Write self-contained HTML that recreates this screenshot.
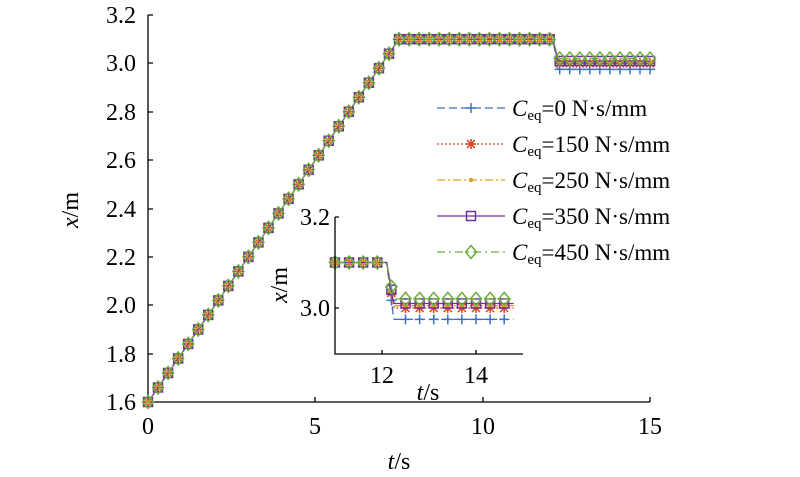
<!DOCTYPE html>
<html><head><meta charset="utf-8"><style>
body{margin:0;background:#fff}
svg{display:block;font-family:"Liberation Serif",serif}
</style></head><body>
<svg id="s" width="800" height="477" viewBox="0 0 800 477">
<g stroke="#000" stroke-width="1.3" fill="none">
<path d="M148,15 V402 H650"/>
<path d="M148,15h5M148,63h5M148,112h5M148,160h5M148,209h5M148,257h5M148,305h5M148,354h5M148,402h5"/>
<path d="M148,402v-5M315,402v-5M483,402v-5M650,402v-5"/>
</g>
<g font-size="24" text-anchor="end">
<text x="136" y="23">3.2</text><text x="136" y="71">3.0</text><text x="136" y="120">2.8</text><text x="136" y="168">2.6</text><text x="136" y="217">2.4</text><text x="136" y="265">2.2</text><text x="136" y="313">2.0</text><text x="136" y="362">1.8</text><text x="136" y="410">1.6</text>
</g>
<g font-size="24" text-anchor="middle">
<text x="148" y="434">0</text><text x="315" y="434">5</text><text x="483" y="434">10</text><text x="650" y="434">15</text>
<text x="399" y="469"><tspan font-style="italic">t</tspan>/s</text>
</g>
<text font-size="24" transform="translate(78,210) rotate(-90)" text-anchor="middle"><tspan font-style="italic">x</tspan>/m</text>
<g id="main"></g>
<g id="inset"></g>
<g stroke="#000" stroke-width="1.3" fill="none">
<path d="M335,217 V354 H523"/>
<path d="M335,217h4M335,308h4M382,354v-4M476,354v-4"/>
</g>
<g font-size="24">
<text x="330" y="225" text-anchor="end">3.2</text><text x="330" y="316" text-anchor="end">3.0</text>
<text x="382" y="383" text-anchor="middle">12</text><text x="476" y="383" text-anchor="middle">14</text>
<text x="428" y="400" text-anchor="middle"><tspan font-style="italic">t</tspan>/s</text>
<text transform="translate(287,285) rotate(-90)" text-anchor="middle"><tspan font-style="italic">x</tspan>/m</text>
</g>
<g id="leg"></g>
<g font-size="23">
<text x="512" y="116"><tspan font-style="italic">C</tspan><tspan font-size="15" dy="4">eq</tspan><tspan dy="-4">=0 N·s/mm</tspan></text>
<text x="512" y="152"><tspan font-style="italic">C</tspan><tspan font-size="15" dy="4">eq</tspan><tspan dy="-4">=150 N·s/mm</tspan></text>
<text x="512" y="188"><tspan font-style="italic">C</tspan><tspan font-size="15" dy="4">eq</tspan><tspan dy="-4">=250 N·s/mm</tspan></text>
<text x="512" y="224"><tspan font-style="italic">C</tspan><tspan font-size="15" dy="4">eq</tspan><tspan dy="-4">=350 N·s/mm</tspan></text>
<text x="512" y="260"><tspan font-style="italic">C</tspan><tspan font-size="15" dy="4">eq</tspan><tspan dy="-4">=450 N·s/mm</tspan></text>
</g>
</svg>
<script>
const NS="http://www.w3.org/2000/svg";
const S=[{c:"#3a70c0",f:2.975,d:"8,4",m:"plus"},{c:"#d9421c",f:3.0,d:"2,2",m:"star"},{c:"#e0a020",f:3.005,d:"8,3,2,3",m:"dot"},{c:"#7030a0",f:3.01,d:"",m:"sq"},{c:"#6aae3a",f:3.02,d:"8,4,2,4",m:"dia"}];
function val(t,f){if(t<=7.5)return 1.6+0.2*t; if(t<=12.1)return 3.1; if(t<=12.25)return 3.1+(f-3.1)*(t-12.1)/0.15; return f;}
function mk(g,x,y,s){let e;const c=s.c;
 if(s.m=="plus"){e=document.createElementNS(NS,"path");e.setAttribute("d",`M${x-5},${y}h10M${x},${y-5}v10`);}
 else if(s.m=="star"){e=document.createElementNS(NS,"path");e.setAttribute("d",`M${x-5},${y}h10M${x},${y-5}v10M${x-4},${y-4}l8,8M${x-4},${y+4}l8,-8`);}
 else if(s.m=="dot"){e=document.createElementNS(NS,"circle");e.setAttribute("cx",x);e.setAttribute("cy",y);e.setAttribute("r",1.5);e.setAttribute("fill",c);}
 else if(s.m=="sq"){e=document.createElementNS(NS,"rect");e.setAttribute("x",x-4.5);e.setAttribute("y",y-4.5);e.setAttribute("width",9);e.setAttribute("height",9);e.setAttribute("fill","none");}
 else {e=document.createElementNS(NS,"path");e.setAttribute("d",`M${x},${y-6.5}l5.5,6.5l-5.5,6.5l-5.5,-6.5z`);e.setAttribute("fill","none");}
 e.setAttribute("stroke",c);e.setAttribute("stroke-width",1.5);g.appendChild(e);}
function draw(gid,X,Y,t0,t1,step){const g=document.getElementById(gid);
 S.forEach(s=>{let p="";for(let t=t0;t<=t1+1e-6;t+=0.02){p+=(p?"L":"M")+X(t).toFixed(1)+","+Y(val(t,s.f)).toFixed(1);}
  const l=document.createElementNS(NS,"path");l.setAttribute("d",p);l.setAttribute("fill","none");l.setAttribute("stroke",s.c);l.setAttribute("stroke-width",1.3);if(s.d)l.setAttribute("stroke-dasharray",s.d);g.appendChild(l);
  for(let t=t0;t<=t1+1e-6;t+=step)mk(g,X(t),Y(val(t,s.f)),s);});}
draw("main",t=>148+t*33.47,v=>15+(3.2-v)/1.6*387,0,15,0.3);
draw("inset",t=>335+(t-11)*47,v=>217+(3.2-v)/0.2*91,11,14.8,0.3);
const lg=document.getElementById("leg");
S.forEach((s,i)=>{const y=108+36*i;const l=document.createElementNS(NS,"path");l.setAttribute("d",`M437,${y}H505`);l.setAttribute("stroke",s.c);l.setAttribute("stroke-width",1.3);if(s.d)l.setAttribute("stroke-dasharray",s.d);lg.appendChild(l);mk(lg,471,y,s);});
</script>
</body></html>
